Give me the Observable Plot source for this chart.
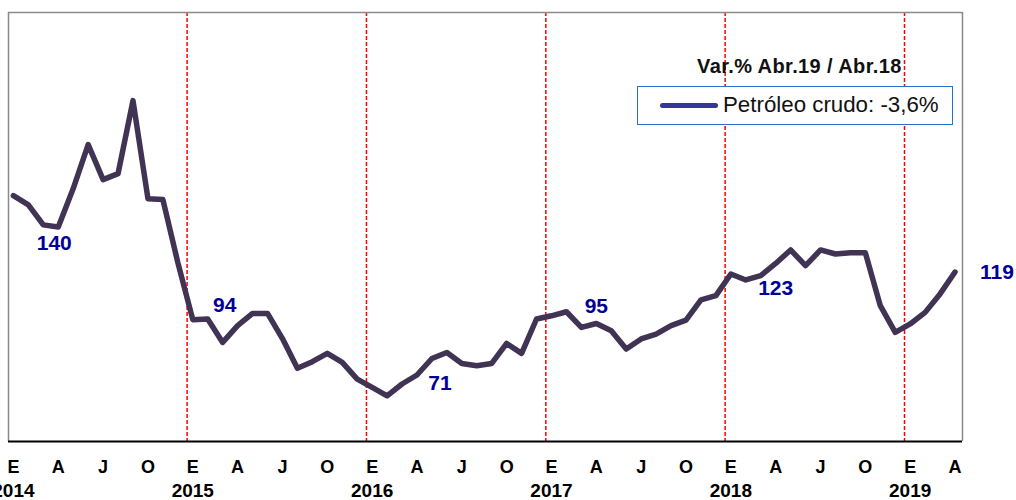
<!DOCTYPE html>
<html>
<head>
<meta charset="utf-8">
<script src="https://cdn.jsdelivr.net/npm/d3@7"></script>
<script src="https://cdn.jsdelivr.net/npm/@observablehq/plot@0.6"></script>
<style>
  body { margin: 0; background: #fff; }
  #wrap { position: relative; width: 1016px; height: 500px; overflow: hidden; font-family: "Liberation Sans", Arial, sans-serif; }
  #legendTitle { position: absolute; left: 697px; top: 55px; font-size: 20px; font-weight: bold; letter-spacing: 0.4px; color: #111; white-space: nowrap; }
  #legendBox { position: absolute; left: 637px; top: 86px; width: 314px; height: 37px; border: 1.5px solid #2a72c0; background: #fff; }
  #legendSample { position: absolute; left: 22px; top: 16px; width: 58px; height: 5px; border-radius: 3px; background: #35359a; }
  #legendText { position: absolute; left: 85px; top: 5px; font-size: 22.3px; color: #111; white-space: nowrap; }
</style>
</head>
<body>
<div id="wrap"></div>
<script>
// ---- data ----
const monthLetters = ["E","F","M","A","M","J","J","A","S","O","N","D"];
const years = [2014, 2015, 2016, 2017, 2018, 2019];
// Monthly index values, Jan 2014 .. Apr 2019
const values = [
  154.6, 150.3, 141.0, 140.0, 157.9, 178.4, 162.1, 164.9, 198.9, 153.2, 152.8, 123.4,
  96.8, 97.1, 86.2, 94.0, 99.7, 99.7, 88.0, 74.1, 77.2, 81.1, 76.9, 69.1,
  65.2, 61.3, 66.8, 71.0, 78.7, 81.5, 76.4, 75.3, 76.4, 85.7, 81.1, 97.1,
  98.6, 100.5, 93.2, 95.0, 91.6, 83.1, 87.8, 90.1, 94.0, 96.6, 106.0, 108.0,
  118.1, 115.3, 117.3, 123.0, 129.3, 122.0, 129.3, 127.4, 128.0, 128.0, 103.3, 90.9,
  94.8, 100.2, 108.8, 119.0
];
const labelIdx = [3, 15, 27, 39, 51, 63];
const labelTexts = ["140", "94", "71", "95", "123", "119"];
const yearStartIdx = [12, 24, 36, 48, 60];
const legendTitle = "Var.% Abr.19 / Abr.18";
const legendLabel = "Petróleo crudo: -3,6%";

// ---- layout (not data) ----
const labelDx = [-4, -13, 23, 0, 0, 42];
const labelDy = [16, -20, 8, -17, 25, 0];

const data = values.map((v, i) => ({i, v}));
const tickIdx = d3.range(0, values.length, 3);

const labelMarks = labelIdx.map((idx, k) =>
  Plot.text([idx], {
    x: d => d, y: d => values[d], text: () => labelTexts[k],
    dx: labelDx[k], dy: labelDy[k],
    fill: "#000099", fontSize: 21, fontWeight: "bold", lineAnchor: "middle"
  })
);

const chart = Plot.plot({
  width: 1016, height: 500,
  marginLeft: 8, marginRight: 54, marginTop: 12, marginBottom: 59,
  x: {domain: [-0.33, 63.5], axis: null},
  y: {domain: [40, 240], axis: null},
  style: {fontFamily: "'Liberation Sans', Arial, sans-serif", background: "white", color: "#000"},
  marks: [
    Plot.ruleX(yearStartIdx, {x: d => d - 0.38, stroke: "#ff0000", strokeWidth: 1.5, strokeDasharray: "4,2"}),
    Plot.ruleX([-0.33, 63.5], {stroke: "#8a8a8a", strokeWidth: 1.5}),
    Plot.ruleY([240], {stroke: "#8a8a8a", strokeWidth: 1.5}),
    Plot.ruleY([40], {stroke: "#000", strokeWidth: 2}),
    Plot.line(data, {x: "i", y: "v", stroke: "#403354", strokeWidth: 5.5, strokeLinejoin: "round", strokeLinecap: "round"}),
    ...labelMarks,
    Plot.text(tickIdx, {
      x: d => d, frameAnchor: "bottom", dy: 26, text: d => monthLetters[d % 12],
      fontSize: 18, fontWeight: "bold", lineAnchor: "middle", fill: "#000"
    }),
    Plot.text(years, {
      x: d => (d - years[0]) * 12, frameAnchor: "bottom", dy: 49, text: d => String(d),
      fontSize: 19, fontWeight: "bold", lineAnchor: "middle", fill: "#000"
    })
  ]
});

const wrap = document.getElementById("wrap");
wrap.appendChild(chart);

const t = document.createElement("div");
t.id = "legendTitle"; t.textContent = legendTitle;
wrap.appendChild(t);
const box = document.createElement("div");
box.id = "legendBox";
const s = document.createElement("div"); s.id = "legendSample";
const lt = document.createElement("div"); lt.id = "legendText"; lt.textContent = legendLabel;
box.appendChild(s); box.appendChild(lt);
wrap.appendChild(box);
</script>
</body>
</html>
